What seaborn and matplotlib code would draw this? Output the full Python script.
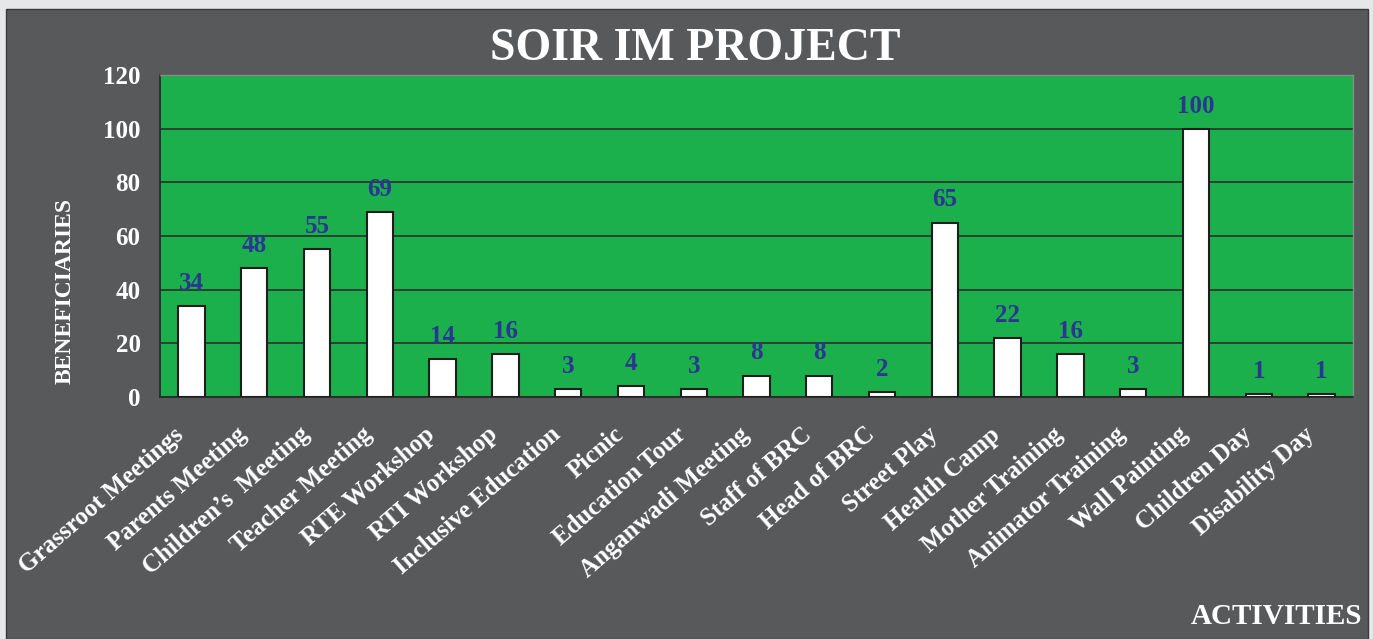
import matplotlib
matplotlib.use('Agg')
import matplotlib.pyplot as plt
import matplotlib.transforms as mtransforms
import seaborn as sns
from matplotlib.patches import Rectangle
from matplotlib.ticker import FixedLocator, NullFormatter

# Chart data
activities = ['Grassroot Meetings', 'Parents Meeting', 'Children\u2019s  Meeting', 'Teacher Meeting',
              'RTE Workshop', 'RTI Workshop', 'Inclusive Education', 'Picnic', 'Education Tour',
              'Anganwadi Meeting', 'Staff of BRC', 'Head of BRC', 'Street Play', 'Health Camp',
              'Mother Training', 'Animator Training', 'Wall Painting', 'Children Day', 'Disability Day']
beneficiaries = [34, 48, 55, 69, 14, 16, 3, 4, 3, 8, 8, 2, 65, 22, 16, 3, 100, 1, 1]
y_ticks = [0, 20, 40, 60, 80, 100, 120]

panel = '#58595b'
green = '#1bb04b'
blue = '#2b3592'
serif = ['Liberation Serif', 'DejaVu Serif']

sns.set_style('white')
plt.rcParams['font.family'] = serif
plt.rcParams['font.weight'] = 'bold'

fig = plt.figure(figsize=(13.73, 6.39), dpi=100, facecolor='#e6e7e8')
fig.patches.append(Rectangle((6 / 1373, 0), 1362 / 1373, 630 / 639, transform=fig.transFigure,
                             facecolor=panel, edgecolor='#3a3a3a', linewidth=1, zorder=-10))

ax = fig.add_axes([160 / 1373, 1 - 397 / 639, 1193 / 1373, 322 / 639])
ax.set_facecolor(green)

sns.barplot(x=activities, y=beneficiaries, color='white', saturation=1, width=0.42,
            edgecolor='#1e1e1e', linewidth=1.5, ax=ax, zorder=3)

ax.set_ylim(0, 120)
ax.set_xlim(-0.5, len(activities) - 0.5)
ax.set_yticks(y_ticks)
ax.yaxis.grid(True, color='#2a3a2c', linewidth=1.3, zorder=1)
ax.set_axisbelow(True)

ax.bar_label(ax.containers[0], padding=8, color=blue, fontsize=18, fontweight='bold')

for s in ['top', 'right']:
    ax.spines[s].set_color('#8a8a8a')
    ax.spines[s].set_linewidth(1)
for s in ['left', 'bottom']:
    ax.spines[s].set_color('#2a2a2a')
    ax.spines[s].set_linewidth(1.3)

ax.tick_params(axis='y', which='major', length=8, width=1.3, color='#2a2a2a', direction='out',
               labelsize=18, labelcolor='white', pad=6)
ax.tick_params(axis='x', which='major', length=0, labelsize=18, labelcolor='white', pad=10)
ax.xaxis.set_minor_locator(FixedLocator([i - 0.5 for i in range(len(activities) + 1)]))
ax.xaxis.set_minor_formatter(NullFormatter())
ax.tick_params(axis='x', which='minor', length=7, width=1.3, color='#2a2a2a', direction='out')

shift = mtransforms.ScaledTranslation(-18 / 100, -12 / 100, fig.dpi_scale_trans)
for lab in ax.get_xticklabels():
    lab.set_rotation(41)
    lab.set_ha('right')
    lab.set_va('top')
    lab.set_rotation_mode('anchor')
    lab.set_fontweight('bold')
    lab.set_transform(lab.get_transform() + shift)
for lab in ax.get_yticklabels():
    lab.set_fontweight('bold')

ax.set_xlabel('')
ax.set_ylabel('')

fig.text(695 / 1373, 1 - 49 / 639, 'SOIR IM PROJECT', ha='center', va='center', color='white',
         fontsize=33, fontweight='bold')
fig.text(65 / 1373, 1 - 291 / 639, 'BENEFICIARIES', ha='center', va='center', color='white',
         fontsize=17, fontweight='bold', rotation=90)
fig.text(1362 / 1373, 1 - 616 / 639, 'ACTIVITIES', ha='right', va='center', color='white',
         fontsize=21, fontweight='bold')

fig.savefig('out.png', dpi=100, facecolor=fig.get_facecolor())
